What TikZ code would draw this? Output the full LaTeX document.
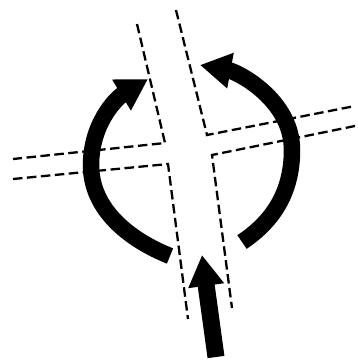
\documentclass[tikz,border=0pt]{standalone}
\usetikzlibrary{arrows.meta}
\begin{document}
\begin{tikzpicture}[
  x=1pt,y=-1pt,
  kerb/.style={line width=2.3pt,dash pattern=on 9.5pt off 4.5pt},
  turn/.style={line width=16.5pt,-{Triangle[length=31pt,width=34pt]}},
  entry/.style={line width=17pt,-{Triangle[length=31pt,width=34pt]}}
]
  \useasboundingbox (0,0) rectangle (358,360);
  \coordinate (nl) at (137,24);
  \coordinate (nr) at (176,10);
  \coordinate (cnw) at (165,143);
  \coordinate (cne) at (207,135);
  \coordinate (csw) at (168,164);
  \coordinate (cse) at (212,155);
  \coordinate (wt) at (13,159);
  \coordinate (wb) at (13,179);
  \coordinate (et) at (355,106);
  \coordinate (eb) at (355,126);
  \coordinate (sl) at (188,319);
  \coordinate (sr) at (232,308);
  \coordinate (ll) at (170,256);
  \coordinate (lm) at (91,165);
  \coordinate (lt) at (148,79);
  \coordinate (rl) at (242,242);
  \coordinate (rm) at (292,150);
  \coordinate (rt) at (200,65);
  \coordinate (st) at (216,357);
  \coordinate (sh) at (202,255);
  % road edges
  \draw[kerb] (nl) -- (cnw) -- (wt);
  \draw[kerb] (wb) -- (csw) -- (sl);
  \draw[kerb] (nr) -- (cne) -- (et);
  \draw[kerb] (eb) -- (cse) -- (sr);
  % arrows
  \draw[turn] (ll) .. controls (130,240) and (91,210) .. (lm) .. controls (91,125) and (115,99) .. (lt);
  \draw[turn] (rl) .. controls (275,220) and (292,190) .. (rm) .. controls (292,100) and (238,72) .. (rt);
  \draw[entry] (st) -- (sh);
\end{tikzpicture}
\end{document}
